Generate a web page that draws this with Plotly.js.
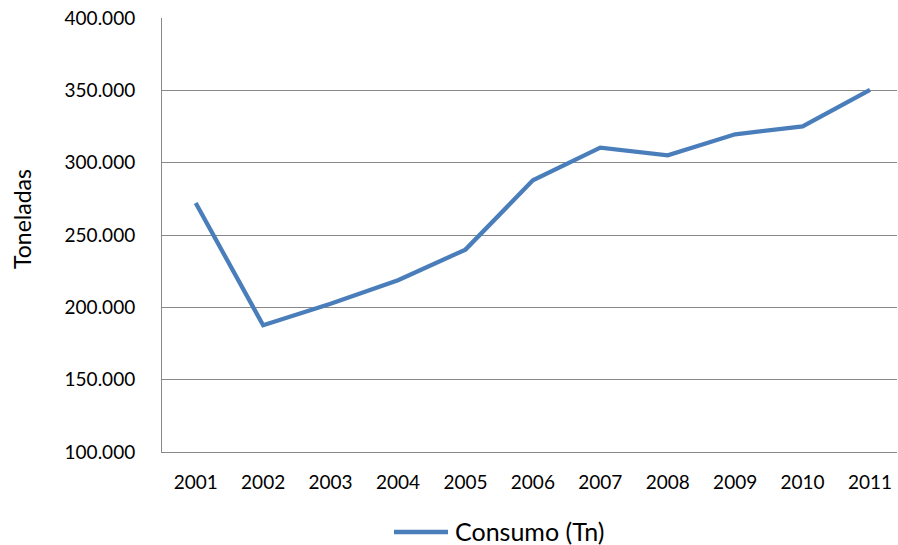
<!DOCTYPE html>
<html>
<head>
<meta charset="utf-8">
<script src="https://cdn.plot.ly/plotly-3.0.1.min.js"></script>
<style>html,body{margin:0;padding:0;background:#fff;}#chart{width:898px;height:545px;}</style>
</head>
<body>
<div id="chart"></div>
<script>
const years = ["2001","2002","2003","2004","2005","2006","2007","2008","2009","2010","2011"];
const consumo = [272100, 187600, 202500, 218700, 239900, 287800, 310400, 305100, 319600, 325100, 350300];
const seriesName = "Consumo (Tn)";
const yTitle = "Toneladas";
const yTicks = [100000, 150000, 200000, 250000, 300000, 350000, 400000];

const font = "Lato, 'Open Sans', sans-serif";
const lineColor = "#4a7ebb";
const L = 162, T = 18, W = 735, H = 434;
const px = x => (x - L) / W;
const py = y => (T + H - y) / H;

Plotly.newPlot("chart", [{
  type: "scatter",
  mode: "lines",
  x: years.map((_, i) => i),
  y: consumo,
  name: seriesName,
  line: {color: lineColor, width: 4.3}
}], {
  width: 898, height: 545,
  margin: {l: L, r: 898 - L - W, t: T, b: 545 - T - H},
  paper_bgcolor: "#fff", plot_bgcolor: "#fff",
  separators: ",.",
  font: {family: font, size: 19, color: "#000"},
  showlegend: false,
  xaxis: {
    range: [-0.5, 10.4],
    tickmode: "array",
    tickvals: years.map((_, i) => i),
    ticktext: years,
    showgrid: false, zeroline: false,
    showline: true, linecolor: "#888", linewidth: 1,
    ticks: "outside", ticklen: 13, tickcolor: "rgba(0,0,0,0)",
    tickfont: {family: font, size: 19, color: "#000"}
  },
  yaxis: {
    range: [100000, 400000],
    tickmode: "array",
    tickvals: yTicks,
    tickformat: ",d",
    showgrid: true, gridcolor: "#888", gridwidth: 1,
    zeroline: false,
    showline: true, linecolor: "#888", linewidth: 1,
    ticks: "outside", ticklen: 22, tickcolor: "rgba(0,0,0,0)",
    tickfont: {family: font, size: 19, color: "#000"}
  },
  shapes: [{
    type: "line", xref: "paper", yref: "paper",
    x0: px(394), x1: px(448), y0: py(532), y1: py(532),
    line: {color: lineColor, width: 4.3}
  }],
  annotations: [{
    text: yTitle, xref: "paper", yref: "paper",
    x: px(22), y: py(219),
    xanchor: "center", yanchor: "middle", textangle: -90, showarrow: false,
    font: {family: font, size: 23, color: "#000"}
  }, {
    text: seriesName, xref: "paper", yref: "paper",
    x: px(453), y: py(531),
    xanchor: "left", yanchor: "middle", showarrow: false,
    font: {family: font, size: 25, color: "#000"}
  }]
}, {staticPlot: true, displayModeBar: false});
</script>
</body>
</html>
